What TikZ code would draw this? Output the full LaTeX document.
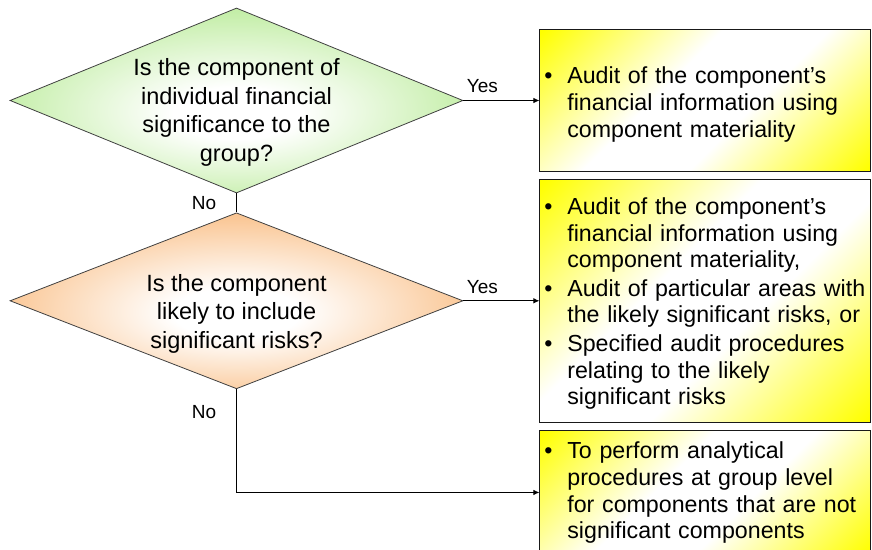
\documentclass[tikz,border=0pt]{standalone}
\usepackage{fontspec}
\setmainfont{Liberation Sans}
\usepackage{tikz}
\usetikzlibrary{arrows.meta, positioning, shapes.geometric}

\definecolor{qgreen}{RGB}{196,238,168}
\definecolor{qorange}{RGB}{250,198,148}

% fills: soft centre for the questions, diagonal yellow for the outcomes
\pgfdeclareradialshading{greenfade}{\pgfpoint{0bp}{-4bp}}{color(0bp)=(white); color(7bp)=(white); color(26bp)=(qgreen); color(50bp)=(qgreen)}
\pgfdeclareradialshading{orangefade}{\pgfpoint{0bp}{-4bp}}{color(0bp)=(white); color(7bp)=(white); color(26bp)=(qorange); color(50bp)=(qorange)}
\pgfdeclarehorizontalshading{boxfade}{100bp}{color(0bp)=(yellow); color(15bp)=(yellow); color(42bp)=(white); color(58bp)=(white); color(85bp)=(yellow); color(100bp)=(yellow)}

% bullet with hanging indent
\newcommand{\bitem}{\par\hangindent=25.5pt\hangafter=1\noindent\makebox[25.5pt][l]{\hspace{2.5pt}\textbullet}}

\begin{document}
\begin{tikzpicture}[
    x=1pt, y=1pt,
    every node/.style={font=\fontsize{23.5}{28.5}\selectfont},
    decision/.style={diamond, draw=black!75, line width=0.8pt, minimum width=453pt, minimum height=#1, inner sep=0pt, shade},
    qtext/.style={align=center, inner sep=0pt},
    answer/.style={rectangle, draw=black!90, line width=0.9pt, shade, shading=boxfade, shading angle=-45,
        text width=327pt, inner xsep=2pt, inner ysep=0pt, align=left, font=\fontsize{23.2}{26.8}\selectfont\setlength{\parskip}{1.5pt}},
    lbl/.style={font=\fontsize{19}{22}\selectfont, inner sep=2pt},
    arrow/.style={-{Latex[length=6pt,width=5.5pt]}, line width=0.8pt},
    line/.style={line width=0.8pt}
]
\useasboundingbox (0,0) rectangle (872,549);

% Questions
\node[decision=185pt, shading=greenfade] (q1) at (236.5,448.5) {};
\node[decision=176pt, shading=orangefade, below=19pt of q1] (q2) {};
\node[qtext] (q1text) at ([yshift=-12pt]q1.center) {Is the component of\\individual financial\\significance to the\\group?};
\node[qtext] (q2text) at ([yshift=-13pt]q2.center) {Is the component\\likely to include\\significant risks?};

% Outcomes (the \kern lifts the lines a little)
\node[answer, minimum height=142pt, right=76pt of q1] (a1) {\bitem Audit of the component's\newline financial information using\newline component materiality\par\kern4pt};
\node[answer, minimum height=243pt, right=76pt of q2] (a2) {\bitem Audit of the component's\newline financial information using\newline component materiality,
    \bitem Audit of particular areas with\newline the likely significant risks, or
    \bitem Specified audit procedures\newline relating to the likely\newline significant risks\par\kern6pt};
\node[answer, minimum height=122pt, below=7pt of a2] (a3) {\kern-3pt\bitem To perform analytical\newline procedures at group level\newline for components that are not\newline significant components\par\kern11pt};

% Arrows
\draw[arrow] (q1.east) -- (q1.east -| a1.west) node[pos=0.25, above=5pt, lbl] {Yes};
\draw[line] (q1.south) -- (q2.north) node[midway, left=18pt, lbl] {No};
\draw[arrow] (q2.east) -- (q2.east -| a2.west) node[pos=0.25, above=5pt, lbl] {Yes};
\draw[arrow] (q2.south) |- (a3.west) node[pos=0.11, left=18pt, lbl] {No};

\end{tikzpicture}
\end{document}
